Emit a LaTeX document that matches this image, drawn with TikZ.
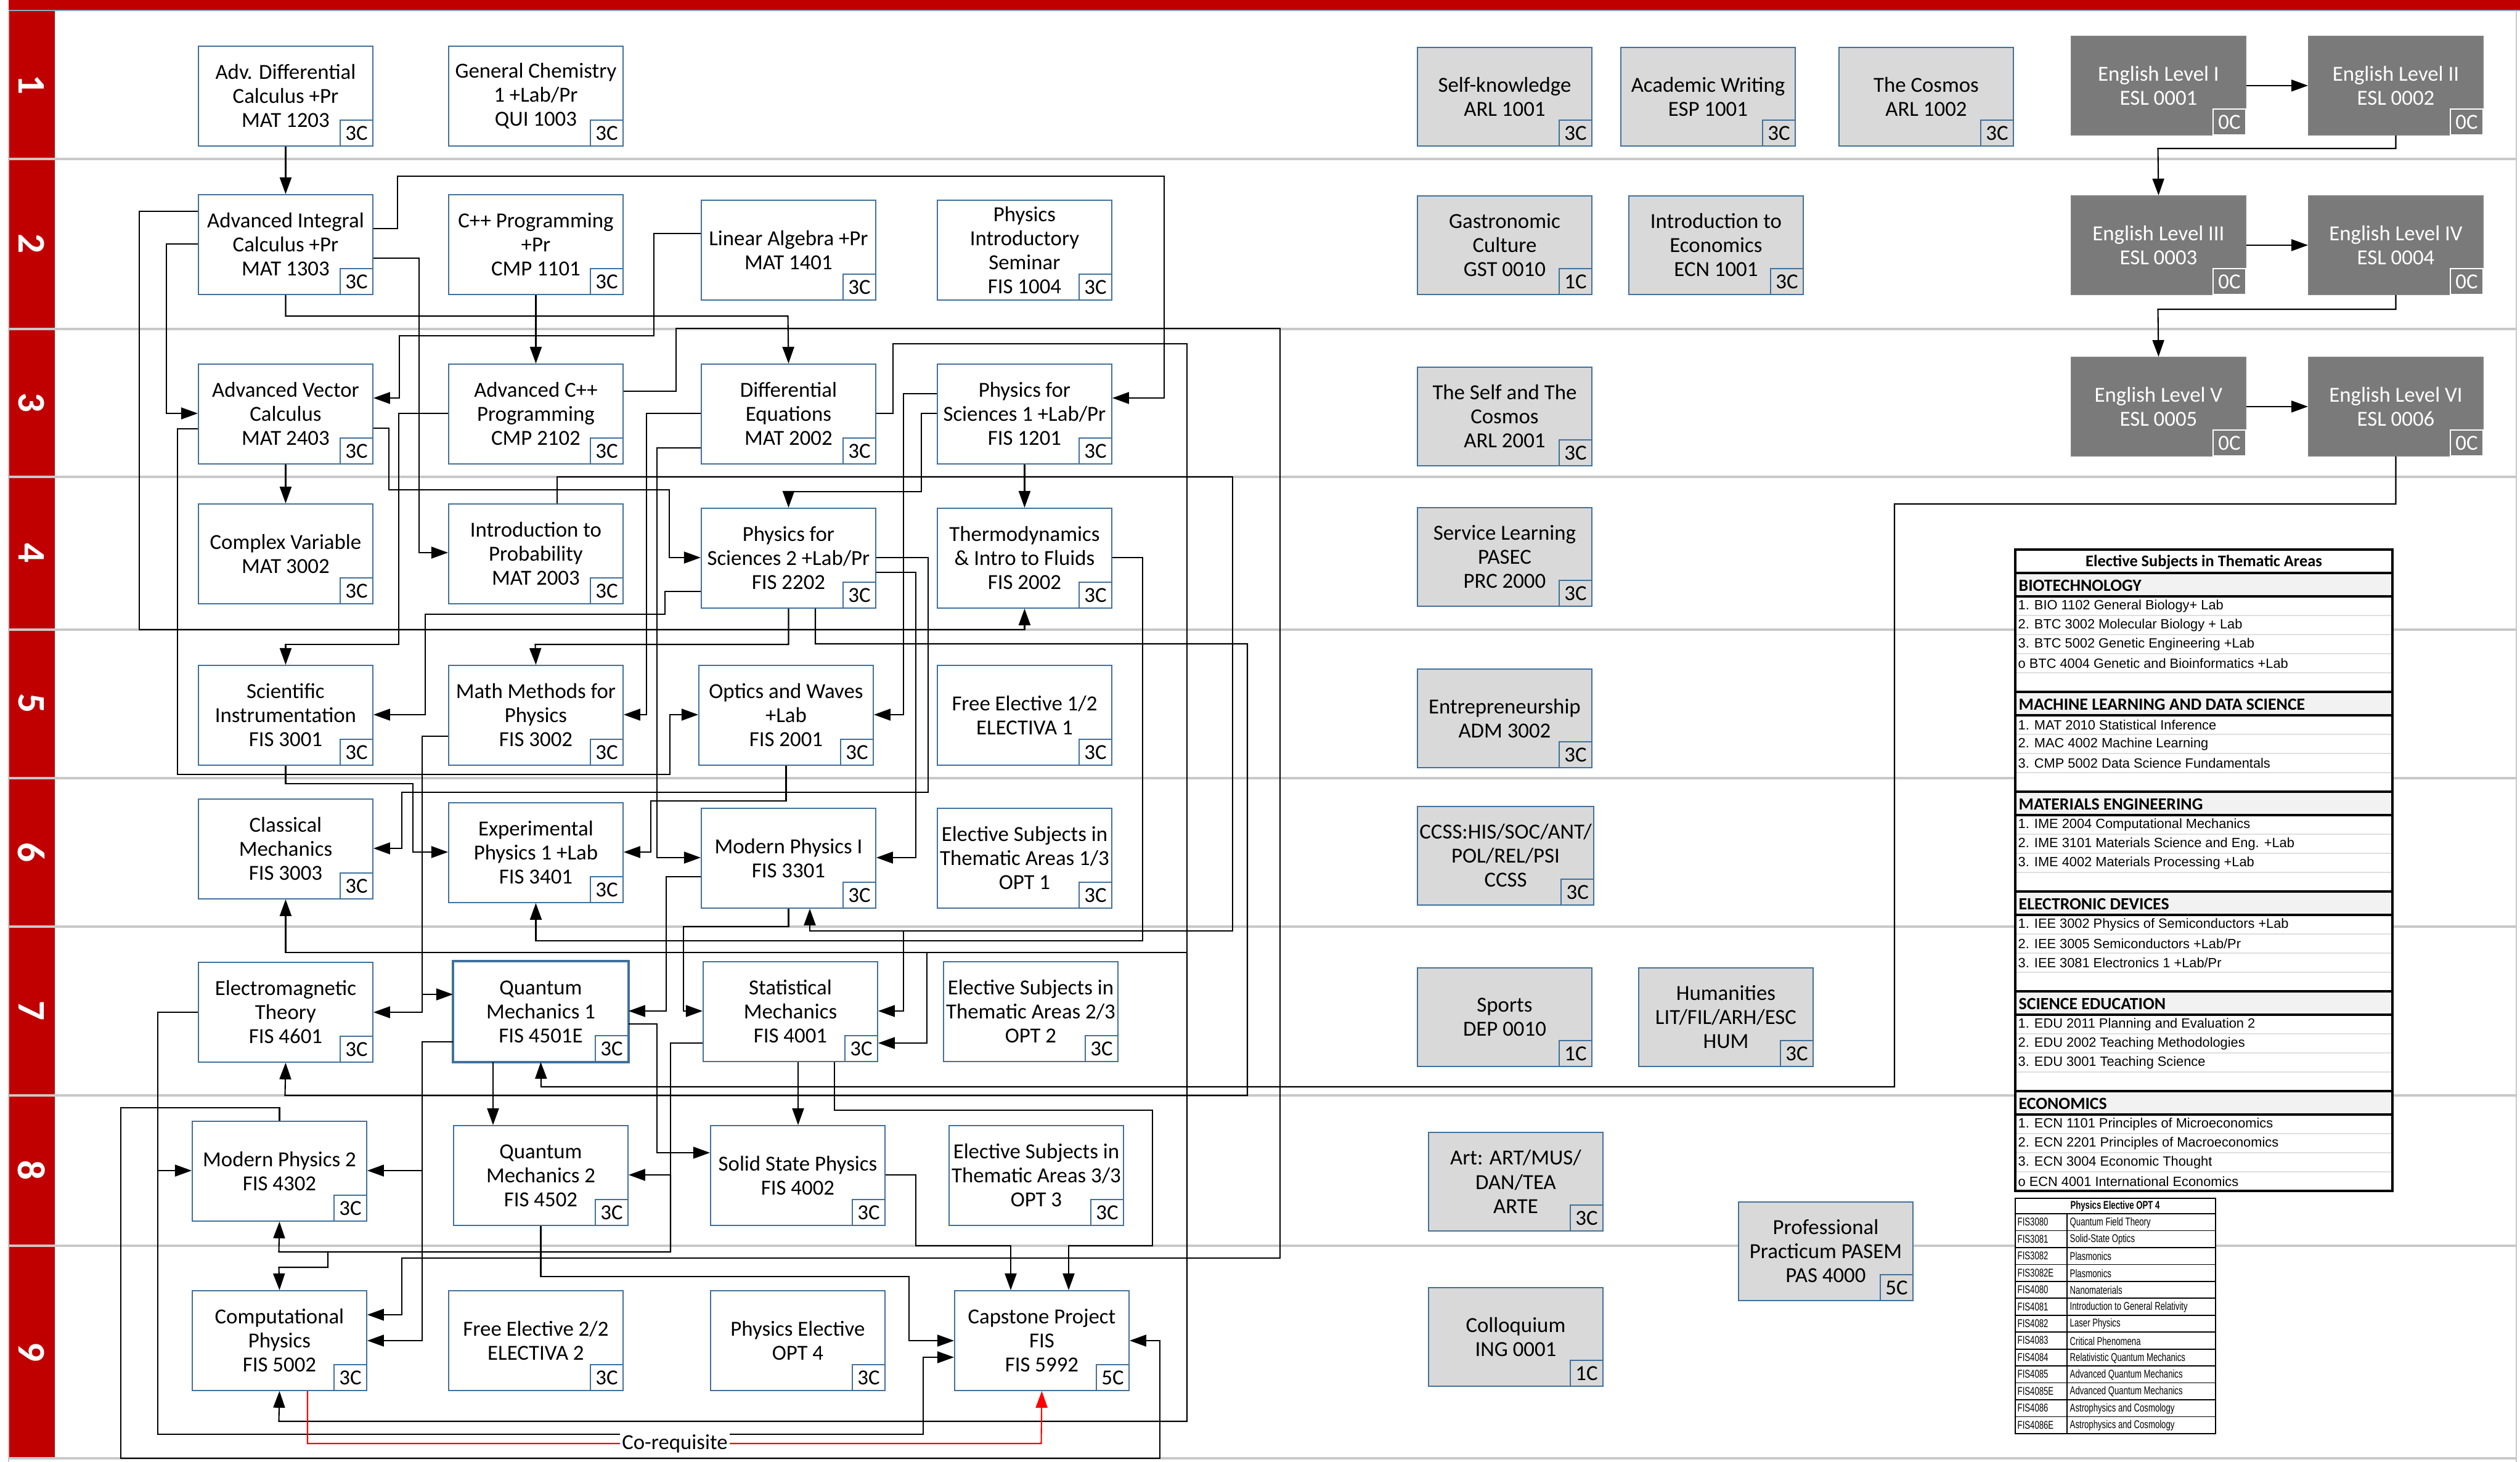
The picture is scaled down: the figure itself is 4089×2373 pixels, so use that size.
\documentclass[tikz,border=0pt]{standalone}
\usepackage{fontspec}
\setmainfont{Carlito}
\newfontfamily\arialf{Liberation Sans}
\newfontfamily\arialn[FakeStretch=0.72]{Liberation Sans}
\usetikzlibrary{arrows.meta}
\definecolor{lanered}{HTML}{C00000}
\definecolor{boxblue}{HTML}{41719C}
\definecolor{sepgray}{HTML}{C8C8C8}
\definecolor{gebox}{HTML}{D9D9D9}
\definecolor{engbox}{HTML}{7A7A7A}
\definecolor{headgray}{HTML}{F2F2F2}
\tikzset{
 crs/.style={draw=boxblue, line width=0.5pt, fill=white, minimum width=2.83cm, minimum height=1.62cm, align=center, inner sep=1pt, font=\fontsize{9.9}{11.1}\selectfont},
 gen/.style={crs, fill=gebox, minimum height=1.6cm},
 eng/.style={crs, fill=engbox, draw=gray, text=white, minimum height=1.6cm},
 cred/.style={draw=boxblue, line width=0.5pt, fill=white, minimum width=0.53cm, minimum height=0.42cm, inner sep=0pt, font=\fontsize{9.9}{11}\selectfont},
 credg/.style={cred, fill=gebox},
 crede/.style={cred, fill=engbox, text=white, draw=white},
 conn/.style={draw, line width=0.6pt, -{Triangle[length=2.7mm,width=1.9mm]}},
 wire/.style={draw, line width=0.6pt},
 coreq/.style={draw=red, line width=0.6pt, -{Triangle[length=2.7mm,width=1.9mm]}},
 lanelab/.style={rotate=-90, text=white, font=\bfseries\fontsize{18}{18}\selectfont},
 itemtxt/.style={anchor=west, inner sep=0pt, font=\arialf\fontsize{6.2}{7}\selectfont},
 headtxt/.style={anchor=west, inner sep=0pt, font=\bfseries\fontsize{7.9}{8}\selectfont},
 opttxt/.style={anchor=west, inner sep=0pt, font=\arialn\fontsize{5.2}{6}\selectfont},
}
\newcommand\course[5]{%
 \node[crs,anchor=north west] (#1) at (#2,#3) {#4};
 \node[cred,anchor=south east] (#1c) at (#1.south east) {#5};}
\newcommand\gened[5]{%
 \node[gen,anchor=north west] (#1) at (#2,#3) {#4};
 \node[credg,anchor=south east] (#1c) at (#1.south east) {#5};}
\newcommand\english[5]{%
 \node[eng,anchor=north west] (#1) at (#2,#3) {#4};
 \node[crede,anchor=south east] (#1c) at (#1.south east) {#5};}
\newcommand\esection[4]{% #1 name, #2 top y, #3 heading, #4 items
 \fill[headgray] (3270,#2) rectangle (3882,#2+38);
 \draw[line width=0.9pt] (3270,#2) -- (3882,#2) (3270,#2+38) -- (3882,#2+38);
 \node[headtxt] (#1) at (3275,#2+20) {#3};
 \foreach \it [count=\i] in {#4} {
   \draw[gray!25, line width=0.5pt] (3270,#2+38+31*\i) -- (3882,#2+38+31*\i);
   \node[itemtxt] (#1-\i) at (3274,#2+38+31*\i-15) {\it};
 }}
\begin{document}
\begin{tikzpicture}[x=0.01cm,y=-0.01cm]
\useasboundingbox (0,0) rectangle (4089,2373);
\fill[white] (0,0) rectangle (4089,2373);
% lanes
\fill[lanered] (14,0) rectangle (4089,16);
\draw[boxblue!60, line width=0.6pt] (14,17) -- (4089,17);
\draw[sepgray, line width=0.6pt] (14,17) -- (14,2373);
\draw[sepgray, line width=0.6pt] (4083,17) -- (4083,2373);
\foreach \a/\b in {18/257, 259/533, 535/773, 775/1021, 1023/1262, 1264/1503, 1505/1777, 1779/2021, 2023/2366}{
  \fill[lanered] (15,\a) rectangle (89,\b);}
\foreach \y in {258,534,774,1022,1263,1504,1778,2022,2367}{
  \draw[sepgray, line width=1pt] (14,\y) -- (4083,\y);}
\node[lanelab] (L1) at (51,138) {1};
\node[lanelab] (L2) at (51,396) {2};
\node[lanelab] (L3) at (51,654) {3};
\node[lanelab] (L4) at (51,898) {4};
\node[lanelab] (L5) at (51,1142) {5};
\node[lanelab] (L6) at (51,1384) {6};
\node[lanelab] (L7) at (51,1641) {7};
\node[lanelab] (L8) at (51,1900) {8};
\node[lanelab] (L9) at (51,2195) {9};
% courses
\course{adf}{321}{74}{Adv. Differential\\Calculus +Pr\\MAT 1203}{3C}
\course{gch}{727}{74}{General Chemistry\\1 +Lab/Pr\\QUI 1003}{3C}
\course{adi}{321}{315}{Advanced Integral\\Calculus +Pr\\MAT 1303}{3C}
\course{cpp}{727}{315}{C++ Programming\\+Pr\\CMP 1101}{3C}
\course{lin}{1137}{324}{Linear Algebra +Pr\\MAT 1401}{3C}
\course{pis}{1520}{324}{Physics\\Introductory\\Seminar\\FIS 1004}{3C}
\course{avc}{321}{590}{Advanced Vector\\Calculus\\MAT 2403}{3C}
\course{acp}{727}{590}{Advanced C++\\Programming\\CMP 2102}{3C}
\course{deq}{1137}{590}{Differential\\Equations\\MAT 2002}{3C}
\course{ps1}{1520}{590}{Physics for\\Sciences 1 +Lab/Pr\\FIS 1201}{3C}
\course{cvar}{321}{817}{Complex Variable\\MAT 3002}{3C}
\course{prob}{727}{817}{Introduction to\\Probability\\MAT 2003}{3C}
\course{ps2}{1137}{824}{Physics for\\Sciences 2 +Lab/Pr\\FIS 2202}{3C}
\course{thermo}{1520}{824}{Thermodynamics\\\& Intro to Fluids\\FIS 2002}{3C}
\course{sci}{321}{1079}{Scientific\\Instrumentation\\FIS 3001}{3C}
\course{mmp}{727}{1079}{Math Methods for\\Physics\\FIS 3002}{3C}
\course{opt}{1133}{1079}{Optics and Waves\\+Lab\\FIS 2001}{3C}
\course{fea}{1520}{1079}{Free Elective 1/2\\ELECTIVA 1}{3C}
\course{clm}{321}{1296}{Classical\\Mechanics\\FIS 3003}{3C}
\course{exp}{727}{1302}{Experimental\\Physics 1 +Lab\\FIS 3401}{3C}
\course{mpa}{1137}{1311}{Modern Physics I\\FIS 3301}{3C}
\course{ela}{1520}{1311}{Elective Subjects in\\Thematic Areas 1/3\\OPT 1}{3C}
\course{em}{321}{1561}{Electromagnetic\\Theory\\FIS 4601}{3C}
\course{qma}{735}{1560}{Quantum\\Mechanics 1\\FIS 4501E}{3C}
\course{stm}{1140}{1560}{Statistical\\Mechanics\\FIS 4001}{3C}
\course{elb}{1530}{1560}{Elective Subjects in\\Thematic Areas 2/3\\OPT 2}{3C}
\course{mpb}{311}{1819}{Modern Physics 2\\FIS 4302}{3C}
\course{qmb}{735}{1826}{Quantum\\Mechanics 2\\FIS 4502}{3C}
\course{sst}{1152}{1826}{Solid State Physics\\FIS 4002}{3C}
\course{elc}{1539}{1826}{Elective Subjects in\\Thematic Areas 3/3\\OPT 3}{3C}
\course{cph}{311}{2094}{Computational\\Physics\\FIS 5002}{3C}
\course{feb}{727}{2094}{Free Elective 2/2\\ELECTIVA 2}{3C}
\course{ope}{1152}{2094}{Physics Elective\\OPT 4}{3C}
\course{cap}{1548}{2094}{Capstone Project\\FIS\\FIS 5992}{5C}
\draw[boxblue, line width=1.2pt] (qma.north west) rectangle (qma.south east);
% general education
\gened{sk}{2299}{76}{Self-knowledge\\ARL 1001}{3C}
\gened{aw}{2629}{76}{Academic Writing\\ESP 1001}{3C}
\gened{cos}{2983}{76}{The Cosmos\\ARL 1002}{3C}
\gened{gas}{2299}{317}{Gastronomic\\Culture\\GST 0010}{1C}
\gened{ecn}{2642}{317}{Introduction to\\Economics\\ECN 1001}{3C}
\gened{sac}{2299}{595}{The Self and The\\Cosmos\\ARL 2001}{3C}
\gened{svc}{2299}{823}{Service Learning\\PASEC\\PRC 2000}{3C}
\gened{ent}{2299}{1085}{Entrepreneurship\\ADM 3002}{3C}
\gened{ccss}{2299}{1308}{CCSS:HIS/SOC/ANT/\\POL/REL/PSI\\CCSS}{3C}
\gened{dep}{2299}{1570}{Sports\\DEP 0010}{1C}
\gened{hum}{2658}{1570}{Humanities\\LIT/FIL/ARH/ESC\\HUM}{3C}
\gened{art}{2317}{1837}{Art: ART/MUS/\\DAN/TEA\\ARTE}{3C}
\gened{pas}{2820}{1950}{Professional\\Practicum PASEM\\PAS 4000}{5C}
\gened{ing}{2317}{2089}{Colloquium\\ING 0001}{1C}
\english{enga}{3360}{58}{English Level I\\ESL 0001}{0C}
\english{engb}{3745}{58}{English Level II\\ESL 0002}{0C}
\english{engc}{3360}{317}{English Level III\\ESL 0003}{0C}
\english{engd}{3745}{317}{English Level IV\\ESL 0004}{0C}
\english{enge}{3360}{579}{English Level V\\ESL 0005}{0C}
\english{engf}{3745}{579}{English Level VI\\ESL 0006}{0C}
% elective table
\fill[white] (3270,892) rectangle (3882,1933);
\node[font=\bfseries\fontsize{7.5}{8}\selectfont, inner sep=0pt] (eth) at (3576,912) {Elective Subjects in Thematic Areas};
\esection{sa}{930}{BIOTECHNOLOGY}{1. BIO 1102 General Biology+ Lab,2. BTC 3002 Molecular Biology + Lab,3. BTC 5002 Genetic Engineering +Lab,o BTC 4004 Genetic and Bioinformatics +Lab}
\esection{sb}{1123}{MACHINE LEARNING AND DATA SCIENCE}{1. MAT 2010 Statistical Inference,2. MAC 4002 Machine Learning,3. CMP 5002 Data Science Fundamentals}
\esection{sc}{1285}{MATERIALS ENGINEERING}{1. IME 2004 Computational Mechanics,2. IME 3101 Materials Science and Eng. +Lab,3. IME 4002 Materials Processing +Lab}
\esection{sd}{1447}{ELECTRONIC DEVICES}{1. IEE 3002 Physics of Semiconductors +Lab,2. IEE 3005 Semiconductors +Lab/Pr,3. IEE 3081 Electronics 1 +Lab/Pr}
\esection{se}{1609}{SCIENCE EDUCATION}{1. EDU 2011 Planning and Evaluation 2,2. EDU 2002 Teaching Methodologies,3. EDU 3001 Teaching Science}
\esection{sf}{1771}{ECONOMICS}{1. ECN 1101 Principles of Microeconomics,2. ECN 2201 Principles of Macroeconomics,3. ECN 3004 Economic Thought,o ECN 4001 International Economics}
\draw[line width=0.9pt] (3270,892) rectangle (3882,1933);
% OPT 4 table
\fill[white] (3270,1945) rectangle (3595,2327);
\draw[line width=0.5pt] (3270,1945) rectangle (3595,2327);
\draw[line width=0.5pt] (3270,1970) -- (3595,1970);
\draw[line width=0.5pt] (3354,1970) -- (3354,2327);
\node[inner sep=0pt, font=\arialn\bfseries\fontsize{5.2}{6}\selectfont] (oph) at (3432,1958) {Physics Elective OPT 4};
\foreach \c/\t [count=\i] in {FIS3080/Quantum Field Theory, FIS3081/Solid-State Optics, FIS3082/Plasmonics, FIS3082E/Plasmonics, FIS4080/Nanomaterials, FIS4081/Introduction to General Relativity, FIS4082/Laser Physics, FIS4083/Critical Phenomena, FIS4084/Relativistic Quantum Mechanics, FIS4085/Advanced Quantum Mechanics, FIS4085E/Advanced Quantum Mechanics, FIS4086/Astrophysics and Cosmology, FIS4086E/Astrophysics and Cosmology}{
  \draw[line width=0.5pt] (3270,1970+27.46*\i) -- (3595,1970+27.46*\i);
  \node[opttxt] (oc\i) at (3273,1970+27.46*\i-14) {\c};
  \node[opttxt] (ot\i) at (3358,1970+27.46*\i-13) {\t};
}
% connectors
\draw[conn] (adf.south) -- (adi.north);
\draw[conn] (adi.east|-0,371) -| (645,286) -| (1889,646) -- (ps1.east|-0,646);
\draw[conn] (adi.east|-0,419) -| (680,897) -- (prob.west|-0,897);
\draw[conn] (adi.south) |- (1278.5,513) -- (deq.north);
\draw[conn] (lin.west|-0,379) -| (1061,545) -| (648,646) -- (avc.east|-0,646);
\draw[conn] (adi.west|-0,343) -| (226,1022) -| (thermo.south);
\draw[conn] (adi.west|-0,396) -| (270,671) -- (avc.west|-0,671);
\draw[conn] (cpp.south) -- (acp.north);
\draw[conn] (avc.south) -- (cvar.north);
\draw[conn] (avc.west|-0,696) -| (288,1257) -| (1087,1160) -- (opt.west|-0,1160);
\draw[conn] (avc.east|-0,695) -| (631,795) -| (1086,905) -- (ps2.west|-0,905);
\draw[conn] (acp.west|-0,671) -| (647,1046) -| (sci.north);
\draw[conn] (acp.east|-0,635) -| (1097,533) -| (2077,2042) -| (652,2134) -- (cph.east|-0,2134);
\draw[conn] (904,0|-prob.north) |- (2000,774) |- (1314,1511) -- (1314,0|-mpa.south);
\draw[conn] (1466,1511) |- (stm.east|-0,1641);
\draw[conn] (ps1.west|-0,671) -| (1495,798) -| (ps2.north);
\draw[conn] (ps1.south) -- (thermo.north);
\draw[conn] (ps1.west|-0,639) -| (1466,1160) -- (opt.east|-0,1160);
\draw[conn] (ps2.west|-0,960) -| (1079,997) -| (690,1160) -- (sci.east|-0,1160);
\draw[conn] (ps2.south) |- (868.5,1046) -- (mmp.north);
\draw[conn] (1323,0|-ps2.south) |- (2024,1045) |- (462.5,1778) -- (em.south);
\draw[conn] (ps2.east|-0,905) -| (1506,1286) -| (652,1377) -- (clm.east|-0,1377);
\draw[conn] (ps2.east|-0,929) -| (1486,1392) -- (mpa.east|-0,1392);
\draw[conn] (deq.west|-0,671) -| (1049,1160) -- (mmp.east|-0,1160);
\draw[conn] (deq.west|-0,727) -| (1066,1392) -- (mpa.west|-0,1392);
\draw[conn] (deq.east|-0,671) -| (1449,558) -| (1926,1546) -| (clm.south);
\draw[conn] (1504,1546) |- (stm.east|-0,1693);
\draw[conn] (1926,1546) |- (452.5,2307) -- (cph.south);
\draw[conn] (thermo.east|-0,905) -| (1854,1527) -| (exp.south);
\draw[conn] (sci.south) |- (670,1272) |- (exp.west|-0,1383);
\draw[conn] (mmp.west|-0,1195) -| (685,1643) -- (em.east|-0,1643);
\draw[conn] (685,1614) -- (qma.west|-0,1614);
\draw[conn] (opt.south) |- (1056,1300) |- (exp.east|-0,1383);
\draw[conn] (mpa.west|-0,1423) -| (1081,1641) -- (qma.east|-0,1641);
\draw[conn] (mpa.south) |- (1109,1504) |- (stm.west|-0,1641);
\draw[conn] (em.west|-0,1643) -| (256,1900) -- (mpb.west|-0,1900);
\draw[conn] (256,1900) |- (1498,2328) |- (cap.west|-0,2203);
\draw[conn] (qma.west|-0,1691) -| (685,1900) -- (mpb.east|-0,1900);
\draw[conn] (685,1900) |- (cph.east|-0,2176);
\draw[conn] (engf.south) |- (3074,818) |- (878,1764) -- (qma.south);
\draw[conn] (800,0|-qma.south) -- (800,0|-qmb.north);
\draw[conn] (qma.east|-0,1662) -| (1066,1871) -- (sst.west|-0,1871);
\draw[conn] (1295,0|-stm.south) -- (1295,0|-sst.north);
\draw[conn] (1354,0|-stm.south) |- (1870,1802) |- (1734,2022) -- (1734,0|-cap.north);
\draw[conn] (sst.east|-0,1907) -| (1486,2022) -| (1640,0|-cap.north);
\draw[conn] (stm.west|-0,1693) -| (1088,1907) -- (qmb.east|-0,1907);
\draw[conn] (1088,1907) |- (452.5,2032) -- (mpb.south);
\draw[conn] (532,2032) |- (452.5,2057) -- (cph.north);
\draw[conn] (qmb.south) |- (1475,2072) |- (cap.west|-0,2176);
\draw[conn] (mpb.north) |- (196,1798) |- (1882,2367) |- (cap.east|-0,2176);
\draw[coreq] (499,0|-cph.south) |- (1689.5,2343) -- (cap.south);
\node[fill=white, inner sep=1pt, font=\fontsize{9.9}{11}\selectfont] (coq) at (1095,2343) {Co-requisite};
\draw[conn] (enga.east) -- (engb.west);
\draw[conn] (engb.south) |- (3501.5,241) -- (engc.north);
\draw[conn] (engc.east) -- (engd.west);
\draw[conn] (engd.south) |- (3501.5,502) -- (enge.north);
\draw[conn] (enge.east) -- (engf.west);
\end{tikzpicture}
\end{document}
